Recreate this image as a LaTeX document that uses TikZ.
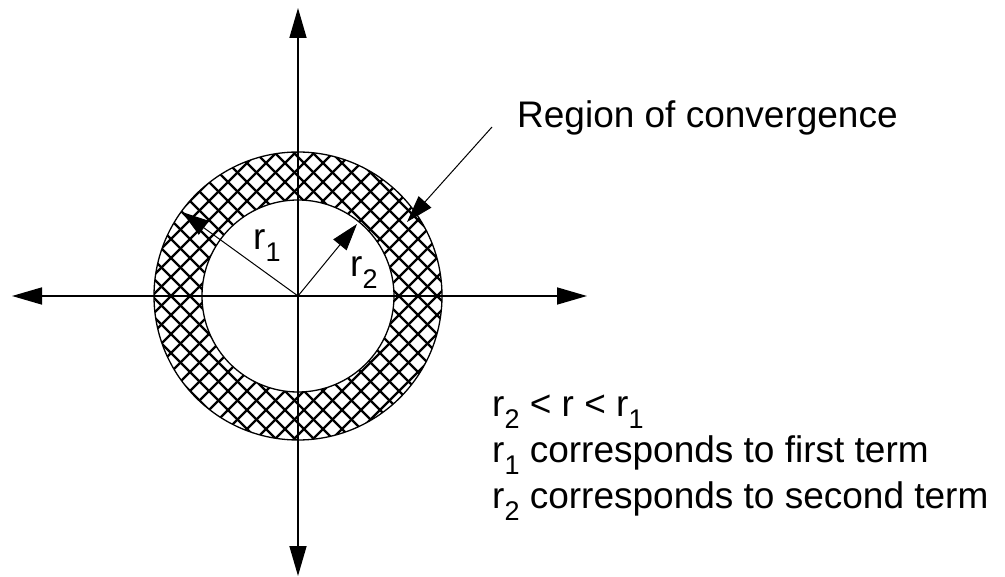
\documentclass[tikz,border=0pt]{standalone}
\usepackage{fontspec}
\setmainfont{Liberation Sans}
\usetikzlibrary{arrows.meta}
\newcommand{\sbs}[1]{\raisebox{-12pt}{\fontsize{27}{27}\selectfont #1}}
\begin{document}
\begin{tikzpicture}[x=1pt,y=-1pt,
  axisline/.style={line width=1.6pt,-{Triangle[length=30pt,width=17pt]}},
  ringline/.style={line width=1.3pt},
  hatchline/.style={line width=2.2pt},
  radarrow/.style={line width=1pt,-{Triangle[length=27pt,width=17pt]}},
  lbl/.style={font=\fontsize{37}{44}\selectfont, inner sep=0pt, anchor=base west}]
\useasboundingbox (0,0) rectangle (1005,577);
\coordinate (O) at (298,296);
\coordinate (T) at (298,8);
\coordinate (B) at (298,576);
\coordinate (L) at (12,296);
\coordinate (R) at (587,296);
% hatched annulus
\begin{scope}
  \clip (O) circle[radius=144pt];
  \begin{scope}[shift={(O)}]
    \foreach \c in {-298,-279,...,310} {
      \draw[hatchline] (\c-160,-160) -- (\c+160,160);
      \draw[hatchline] (\c-160,160) -- (\c+160,-160);
    }
  \end{scope}
\end{scope}
\fill[white] (O) circle[radius=96pt];
\draw[ringline] (O) circle[radius=144pt];
\draw[ringline] (O) circle[radius=96pt];
% axes
\draw[axisline] (O) -- (T);
\draw[axisline] (O) -- (B);
\draw[axisline] (O) -- (L);
\draw[axisline] (O) -- (R);
% radii
\coordinate (P1) at (182,212);
\coordinate (P2) at (357,224);
\draw[radarrow] (O) -- (P1);
\draw[radarrow] (O) -- (P2);
\node[lbl] (r1) at (253,250) {r\sbs{1}};
\node[lbl] (r2) at (350,277) {r\sbs{2}};
% region of convergence
\node[lbl] (roc) at (517,128) {Region of convergence};
\coordinate (S) at (492,127);
\coordinate (E) at (407,222);
\draw[radarrow] (S) -- (E);
% notes
\node[lbl] (n1) at (492,417) {r\sbs{2} < r < r\sbs{1}};
\node[lbl] (n2) at (492,463) {r\sbs{1} corresponds to first term};
\node[lbl] (n3) at (492,508) {r\sbs{2} corresponds to second term};
\end{tikzpicture}
\end{document}
